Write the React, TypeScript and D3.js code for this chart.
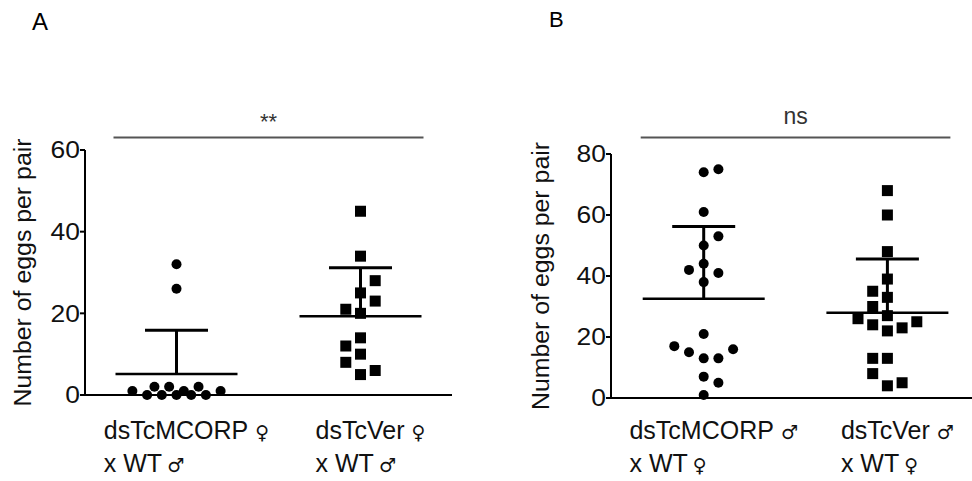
import React, { useRef, useEffect } from "react";
import * as d3 from "d3";

// eggs laid per pair
const panelTitles = ["A", "B"];
const groupNames = ["dsTcMCORP", "dsTcVer"];
const crossText = "x WT";
const sexSymbolsA = ["♀", "♂"]; // injected parent, WT partner
const sexSymbolsB = ["♂", "♀"];
const eggsA_MCORP = [0, 0, 0, 0, 0, 1, 1, 1, 2, 2, 2, 26, 32];
const eggsA_Ver = [5, 6, 8, 10, 12, 14, 20, 21, 23, 25, 28, 34, 45];
const eggsB_MCORP = [1, 5, 7, 13, 13, 15, 17, 16, 21, 38, 41, 50, 53, 61, 74, 75, 42, 44];
const eggsB_Ver = [4, 5, 8, 13, 13, 22, 24, 23, 25, 26, 27, 30, 33, 35, 39, 48, 60, 68];
const ticksA = [0, 20, 40, 60];
const ticksB = [0, 20, 40, 60, 80];
const significance = ["**", "ns"];
const yAxisTitle = "Number of eggs per pair";

const FONT = "'Liberation Sans', Arial, sans-serif";
const SYM_FONT = "'DejaVu Sans', sans-serif";

const panels = [
  {
    title: panelTitles[0], sig: significance[0], ticks: ticksA, max: 60,
    series: [eggsA_MCORP, eggsA_Ver], symbols: sexSymbolsA,
    left: 85, right: 452, top: 150, bottom: 395, centers: [176.5, 360.5],
    yTitleX: 30.5, titleX: 32, titleY: 30, titleSize: 24, sigSize: 22, sigY: 128.5,
  },
  {
    title: panelTitles[1], sig: significance[1], ticks: ticksB, max: 80,
    series: [eggsB_MCORP, eggsB_Ver], symbols: sexSymbolsB,
    left: 611, right: 972, top: 154, bottom: 398, centers: [703.7, 887.4],
    yTitleX: 549, titleX: 549, titleY: 27, titleSize: 22, sigSize: 23, sigY: 123.5,
  },
];

// greedy swarm like Prism's scatter dot plot: slots every half step
function swarm(values: number[], y: (v: number) => number) {
  const h = 7.35, D = 14.5, maxK = 6;
  const placed: { v: number; y: number; off: number }[] = [];
  let last = 1;
  for (const v of values) {
    const py = y(v);
    const minDist = (off: number) =>
      d3.min(placed, (p) => Math.hypot(p.off - off, p.y - py)) ?? Infinity;
    let chosen: number | null = null;
    for (let k = 0; k <= maxK && chosen === null; k++) {
      if (k === 0) {
        if (minDist(0) >= D) chosen = 0;
        continue;
      }
      const plus = minDist(k * h) >= D;
      const minus = minDist(-k * h) >= D;
      if (plus && minus) chosen = last * k * h;
      else if (plus) chosen = k * h;
      else if (minus) chosen = -k * h;
    }
    if (chosen === null) {
      let best = -1;
      for (let k = 0; k <= maxK; k++) {
        for (const s of k === 0 ? [1] : [1, -1]) {
          const d = minDist(s * k * h);
          if (d > best + 0.01) { best = d; chosen = s * k * h; }
        }
      }
    }
    if (chosen !== 0) last = Math.sign(chosen as number);
    placed.push({ v, y: py, off: chosen as number });
  }
  return placed;
}

const App = () => {
  const ref = useRef<SVGSVGElement>(null);

  useEffect(() => {
    const svg = d3.select(ref.current);
    svg.selectAll("*").remove();

    panels.forEach((p) => {
      const g = svg.append("g");
      const y = d3.scaleLinear().domain([0, p.max]).range([p.bottom, p.top]);
      const x = d3.scalePoint<string>().domain(groupNames).range(p.centers as [number, number]);

      // panel letter
      g.append("text").attr("x", p.titleX).attr("y", p.titleY)
        .attr("font-family", FONT).attr("font-size", p.titleSize).text(p.title);

      // axes
      g.append("line").attr("x1", p.left).attr("x2", p.left)
        .attr("y1", y(p.max)).attr("y2", p.bottom + 1)
        .attr("stroke", "#000").attr("stroke-width", 2);
      g.append("line").attr("x1", p.left - 1).attr("x2", p.right)
        .attr("y1", p.bottom).attr("y2", p.bottom)
        .attr("stroke", "#000").attr("stroke-width", 2);

      const ticks = g.selectAll(".tick").data(p.ticks).enter().append("g");
      ticks.append("line")
        .attr("x1", p.left - 5).attr("x2", p.left)
        .attr("y1", (d) => y(d)).attr("y2", (d) => y(d))
        .attr("stroke", "#000").attr("stroke-width", 2);
      ticks.append("text")
        .attr("transform", (d) => `translate(${p.left - 5},${y(d)}) scale(1.15,1)`)
        .attr("dy", "0.36em").attr("text-anchor", "end")
        .attr("font-family", FONT).attr("font-size", 23).attr("fill", "#111")
        .text((d) => d);

      g.append("text")
        .attr("transform", `translate(${p.yTitleX},${(p.top + p.bottom) / 2}) rotate(-90)`)
        .attr("text-anchor", "middle").attr("font-family", FONT).attr("font-size", 23)
        .attr("textLength", 268).attr("lengthAdjust", "spacingAndGlyphs")
        .attr("fill", "#111").text(yAxisTitle);

      // significance bar
      const sx0 = x(groupNames[0])! - 63;
      const sx1 = x(groupNames[1])! + 63;
      g.append("line").attr("x1", sx0).attr("x2", sx1)
        .attr("y1", 137.5).attr("y2", 137.5)
        .attr("stroke", "#555").attr("stroke-width", 2);
      g.append("text").attr("x", (sx0 + sx1) / 2).attr("y", p.sigY)
        .attr("text-anchor", "middle").attr("font-family", FONT)
        .attr("font-size", p.sigSize).attr("fill", "#333").text(p.sig);

      p.series.forEach((vals, i) => {
        const cx = x(groupNames[i])!;
        const mean = d3.mean(vals)!;
        const sd = d3.deviation(vals)!;

        // mean + SD
        g.append("line").attr("x1", cx).attr("x2", cx)
          .attr("y1", y(mean)).attr("y2", y(mean + sd))
          .attr("stroke", "#000").attr("stroke-width", 3);
        g.append("line").attr("x1", cx - 31.5).attr("x2", cx + 31.5)
          .attr("y1", y(mean + sd)).attr("y2", y(mean + sd))
          .attr("stroke", "#000").attr("stroke-width", 3);
        g.append("line").attr("x1", cx - 61).attr("x2", cx + 61)
          .attr("y1", y(mean)).attr("y2", y(mean))
          .attr("stroke", "#000").attr("stroke-width", 2.5);

        const pts = swarm(vals, y);
        if (i === 0) {
          g.selectAll(null).data(pts).enter().append("circle")
            .attr("cx", (d) => cx + d.off).attr("cy", (d) => d.y)
            .attr("r", 5).attr("fill", "#000");
        } else {
          g.selectAll(null).data(pts).enter().append("rect")
            .attr("x", (d) => cx + d.off - 5.5).attr("y", (d) => d.y - 5.5)
            .attr("width", 11).attr("height", 11).attr("fill", "#000");
        }

        // two-line category label, left-aligned block
        const row1 = g.append("text").attr("y", 439)
          .attr("font-family", FONT).attr("font-size", 25).attr("fill", "#111");
        row1.append("tspan").text(groupNames[i]);
        row1.append("tspan").attr("dx", 7).attr("font-family", SYM_FONT)
          .attr("font-size", 19).text(p.symbols[0]);
        const row2 = g.append("text").attr("y", 472)
          .attr("font-family", FONT).attr("font-size", 25).attr("fill", "#111");
        row2.append("tspan").text(crossText);
        row2.append("tspan").attr("dx", 5).attr("font-family", SYM_FONT)
          .attr("font-size", 19).text(p.symbols[1]);
        const w = (row1.node() as SVGTextElement).getBBox().width;
        const lx = cx + 10 - w / 2;
        row1.attr("x", lx);
        row2.attr("x", lx);
      });
    });
  }, []);

  return (
    <svg
      ref={ref}
      width={972}
      height={481}
      style={{ position: "absolute", left: 0, top: 0, background: "#fff" }}
    />
  );
};

export default App;
